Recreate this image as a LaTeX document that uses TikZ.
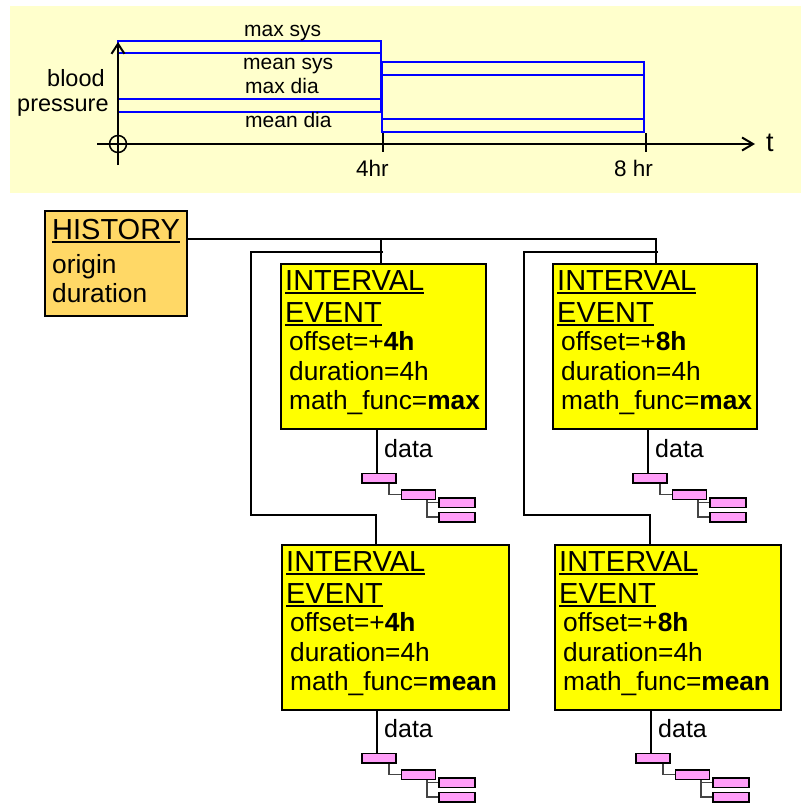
\documentclass[tikz,border=0pt]{standalone}
\usepackage{fontspec}
\setmainfont{Liberation Sans}
\usetikzlibrary{arrows.meta,calc}
\definecolor{panel}{HTML}{FFFFCC}
\definecolor{histfill}{HTML}{FFD866}
\definecolor{evfill}{HTML}{FFFF00}
\definecolor{pinkfill}{HTML}{FF9EF8}
\definecolor{bpblue}{HTML}{0000FF}
\definecolor{dgray}{HTML}{444444}
\newsavebox\ulbox
\newcommand\ulin[1]{\sbox\ulbox{#1}\rlap{\rule[-3.5pt]{\wd\ulbox}{2pt}}\usebox\ulbox}
\tikzset{
  hd/.style={anchor=base west, inner sep=0pt, font=\fontsize{29}{32}\selectfont},
  bd/.style={anchor=base west, inner sep=0pt, font=\fontsize{26.3}{30}\selectfont},
  lbl/.style={anchor=base west, inner sep=0pt, font=\fontsize{21}{24}\selectfont},
  evbox/.style={draw, line width=2pt, fill=evfill, anchor=north west, inner sep=0pt},
  histbox/.style={draw, line width=2pt, fill=histfill, anchor=north west, inner sep=0pt},
  pinkbox/.style={draw, line width=1.5pt, fill=pinkfill, inner sep=0pt, minimum height=9.5pt},
  conn/.style={draw, line width=1.7pt},
  dconn/.style={draw=dgray, line width=1.1pt},
  blueline/.style={draw=bpblue, line width=1.8pt},
  axis/.style={draw, line width=2pt},
}
\newcommand\eventbox[7]{%
  \node[evbox, minimum width=#4pt, minimum height=#5pt] (#1) at (#2,#3) {};
  \node[hd] (#1-t1) at ($(#1.north west)+(5,27)$) {\ulin{INTERVAL}};
  \node[hd] (#1-t2) at ($(#1.north west)+(5,59)$) {\ulin{EVENT}};
  \node[bd] (#1-t3) at ($(#1.north west)+(9,87)$) {offset=+\textbf{#6}};
  \node[bd] (#1-t4) at ($(#1.north west)+(9,117)$) {duration=4h};
  \node[bd] (#1-t5) at ($(#1.north west)+(9,146)$) {math\_func=\textbf{#7}};
}
\newcommand\datatree[3]{%
  \coordinate (#1) at (#2,#3);
  \node[anchor=base west, inner sep=0pt, font=\fontsize{25}{25}\selectfont] (#1-lbl) at (#2+7,#3-16) {data};
  \node[pinkbox, minimum width=34pt] (#1-p1) at (#2+2,#3+5) {};
  \node[pinkbox, minimum width=34pt] (#1-p2) at (#2+41.5,#3+21.5) {};
  \node[pinkbox, minimum width=36pt] (#1-p3) at (#2+80,#3+29.5) {};
  \node[pinkbox, minimum width=36pt] (#1-p4) at (#2+80,#3+44) {};
  \draw[dconn] ([xshift=10pt]#1-p1.south) |- (#1-p2.west);
  \draw[dconn] ([xshift=8.5pt]#1-p2.south) |- (#1-p3.west);
  \draw[dconn] ([xshift=8.5pt]#1-p2.south) |- (#1-p4.west);
}
\begin{document}
\begin{tikzpicture}[x=1pt, y=-1pt]
\useasboundingbox (0,0) rectangle (801,803);
% ---- top panel: blood pressure plot ----
\fill[panel] (10,6) rectangle (801,193);
\draw[blueline] (118,41) rectangle (381,112);
\draw[blueline] (118,53) -- (381,53);
\draw[blueline] (118,99) -- (381,99);
\draw[blueline] (382,62) rectangle (644,132);
\draw[blueline] (382,75) -- (644,75);
\draw[blueline] (382,119) -- (644,119);
\draw[axis, -{Straight Barb[length=11pt,width=13pt]}] (97,144) -- (755,144);
\draw[axis, -{Straight Barb[length=10pt,width=13pt]}] (118,165) -- (118,42);
\draw[axis] (383,133) -- (383,152);
\draw[axis] (646,133) -- (646,152);
\draw[line width=1.5pt] (118,144) circle (8.5pt);
\node[lbl] (maxsys) at (244,36.5) {max sys};
\node[lbl] (meansys) at (243,69) {mean sys};
\node[lbl] (maxdia) at (245,93) {max dia};
\node[lbl] (meandia) at (245,127) {mean dia};
\node[anchor=base west, inner sep=0pt, font=\fontsize{23.5}{24}\selectfont] (bp1) at (47,86) {blood};
\node[anchor=base west, inner sep=0pt, font=\fontsize{23.5}{24}\selectfont] (bp2) at (17,111) {pressure};
\node[anchor=base west, inner sep=0pt, font=\fontsize{22.5}{23}\selectfont] (t4) at (356,176) {4hr};
\node[anchor=base west, inner sep=0pt, font=\fontsize{22.5}{23}\selectfont] (t8) at (614,176) {8 hr};
\node[anchor=base west, inner sep=0pt, font=\fontsize{27}{27}\selectfont] (tt) at (766,151) {t};
% ---- history box ----
\node[histbox, minimum width=142pt, minimum height=105pt] (H) at (44,210) {};
\node[hd] (H-t1) at (52,239) {\ulin{HISTORY}};
\node[bd] (H-t2) at (52,273) {origin};
\node[bd] (H-t3) at (52,302) {duration};
% ---- interval events ----
\eventbox{A}{280}{263}{205}{165}{4h}{max}
\eventbox{B}{552}{263}{204}{165}{8h}{max}
\eventbox{C}{281}{544}{227}{165}{4h}{mean}
\eventbox{D}{554}{544}{226}{165}{8h}{mean}
% ---- connectors ----
\coordinate (j1) at (381,239);
\coordinate (j2) at (656,239);
\draw[conn] (H.east |- j1) -- (j2) -- (j2 |- B.north);
\draw[conn] (j1) -- (j1 |- A.north);
\coordinate (k1) at (383,252);
\coordinate (m1) at (251,515);
\coordinate (n1) at (376,515);
\draw[conn] (k1) -| (m1) -- (n1) -- (n1 |- C.north);
\coordinate (k2) at (658,252);
\coordinate (m2) at (524,515);
\coordinate (n2) at (650,515);
\draw[conn] (k2) -| (m2) -- (n2) -- (n2 |- D.north);
% ---- data trees ----
\datatree{Ad}{377}{473}
\datatree{Bd}{648}{473}
\datatree{Cd}{377}{753}
\datatree{Dd}{651}{753}
\draw[conn] (A.south -| Ad) -- (Ad);
\draw[conn] (B.south -| Bd) -- (Bd);
\draw[conn] (C.south -| Cd) -- (Cd);
\draw[conn] (D.south -| Dd) -- (Dd);
\end{tikzpicture}
\end{document}
